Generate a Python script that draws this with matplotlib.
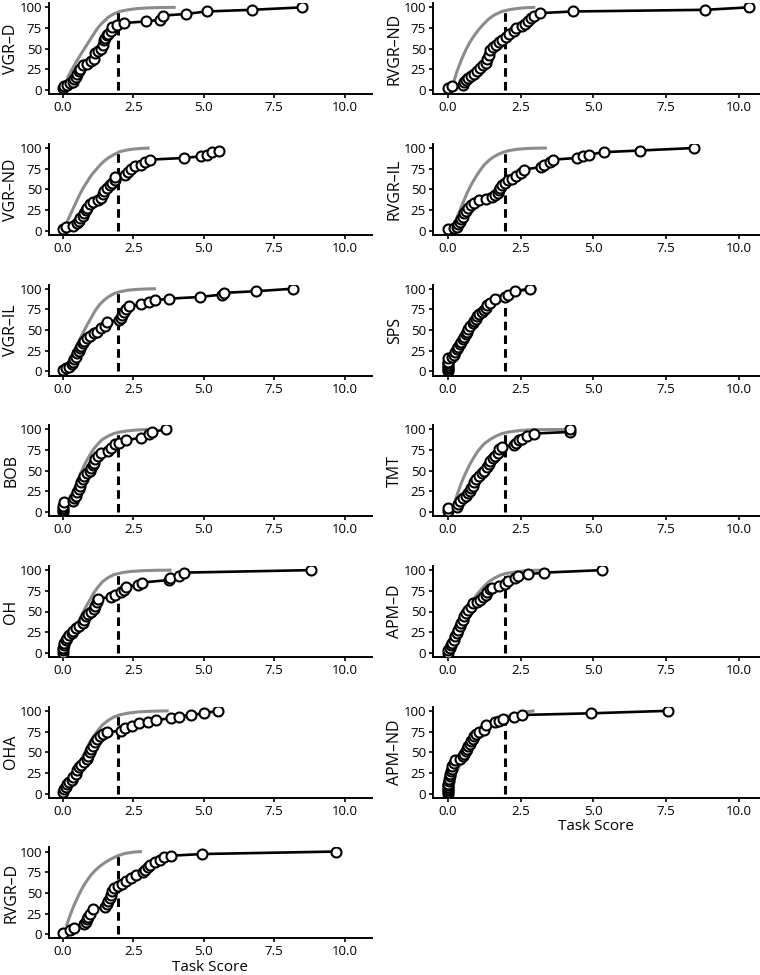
import matplotlib
matplotlib.use("Agg")
import matplotlib.pyplot as plt

plt.rcParams['font.family'] = ['Open Sans', 'DejaVu Sans']

# ---- data: patient task scores (x) vs cumulative percent (y), plus control curve ----
vgr_d_x = [0, 0.05, 0.15, 0.25, 0.35, 0.4, 0.45, 0.5, 0.55, 0.6, 0.7, 0.85, 1.0, 1.1, 1.15, 1.25, 1.35, 1.4, 1.45, 1.5, 1.55, 1.6, 1.7, 1.75, 1.9, 2.15, 2.95, 3.45, 3.55, 4.35, 5.1, 6.7, 8.5]
vgr_d_y = [2, 5, 6, 8, 10, 13, 16, 20, 23, 26, 30, 32, 35, 38, 45, 47, 50, 55, 60, 63, 66, 68, 72, 76, 79, 81, 83, 85, 90, 92, 95, 97, 100]
vgr_d_ref_x = [0.15, 0.3, 0.5, 0.7, 0.85, 1.0, 1.15, 1.3, 1.45, 1.6, 1.8, 2.0, 2.3, 2.6, 3.0, 3.5, 4.0]
vgr_d_ref_y = [14, 24, 36, 47, 55, 63, 71, 78, 83, 88, 92, 95, 97, 98.4, 99.3, 99.8, 100]

rvgr_nd_x = [0, 0.15, 0.5, 0.55, 0.6, 0.7, 0.8, 0.9, 1.0, 1.1, 1.2, 1.3, 1.35, 1.4, 1.45, 1.55, 1.65, 1.75, 1.85, 2.0, 2.1, 2.25, 2.35, 2.55, 2.65, 2.75, 2.85, 2.95, 3.15, 4.3, 8.85, 10.35]
rvgr_nd_y = [2, 5, 6, 10, 12, 14, 17, 20, 23, 27, 30, 33, 38, 42, 48, 52, 55, 58, 61, 64, 68, 71, 75, 78, 80, 83, 87, 90, 93, 95, 97, 100]
rvgr_nd_ref_x = [0.18, 0.3, 0.45, 0.6, 0.75, 0.9, 1.05, 1.2, 1.4, 1.6, 1.85, 2.1, 2.4, 2.7, 3.0]
rvgr_nd_ref_y = [8, 22, 36, 48, 58, 66, 73, 79, 86, 91, 95, 97.2, 98.7, 99.6, 100]

vgr_nd_x = [0, 0.1, 0.35, 0.5, 0.55, 0.6, 0.7, 0.75, 0.8, 0.85, 0.95, 1.05, 1.25, 1.35, 1.4, 1.45, 1.55, 1.65, 1.75, 1.85, 1.85, 2.2, 2.3, 2.4, 2.55, 2.75, 2.9, 3.1, 4.3, 4.9, 5.1, 5.3, 5.55]
vgr_nd_y = [2, 4, 6, 9, 12, 15, 18, 22, 25, 28, 32, 35, 37, 40, 44, 48, 52, 55, 58, 61, 65, 67, 71, 75, 78, 80, 83, 86, 88, 90, 92, 95, 97]
vgr_nd_ref_x = [0.12, 0.25, 0.4, 0.55, 0.7, 0.85, 1.0, 1.15, 1.3, 1.45, 1.6, 1.8, 2.0, 2.25, 2.5, 2.8, 3.07]
vgr_nd_ref_y = [9, 19, 30, 41, 51, 59, 67, 73, 79, 84, 88, 92, 95.5, 97.5, 98.8, 99.6, 100]

rvgr_il_x = [0, 0.2, 0.3, 0.35, 0.4, 0.45, 0.5, 0.55, 0.6, 0.7, 0.8, 0.9, 1.05, 1.3, 1.5, 1.6, 1.7, 1.75, 1.8, 1.85, 1.95, 2.05, 2.2, 2.35, 2.5, 2.6, 3.2, 3.3, 3.5, 3.6, 4.45, 4.65, 4.85, 5.35, 6.6, 8.45]
rvgr_il_y = [2, 3, 5, 8, 11, 14, 17, 21, 24, 27, 31, 34, 37, 39, 41, 43, 46, 49, 52, 55, 58, 61, 63, 66, 70, 74, 77, 79, 83, 86, 88, 90, 92, 95, 97, 100]
rvgr_il_ref_x = [0.2, 0.35, 0.5, 0.67, 0.8, 0.95, 1.1, 1.25, 1.4, 1.55, 1.73, 1.9, 2.1, 2.4, 2.7, 3.0, 3.4]
rvgr_il_ref_y = [7, 20, 33, 47, 56, 65, 73, 80, 85, 89, 92.5, 95, 97, 98.6, 99.4, 99.8, 100]

vgr_il_x = [0, 0.1, 0.2, 0.3, 0.35, 0.4, 0.45, 0.5, 0.55, 0.6, 0.65, 0.7, 0.75, 0.85, 0.95, 1.1, 1.2, 1.35, 1.5, 1.55, 2.0, 2.05, 2.1, 2.15, 2.25, 2.35, 2.75, 3.05, 3.25, 3.75, 4.85, 5.65, 5.7, 6.85, 8.15]
vgr_il_y = [2, 4, 6, 9, 12, 15, 18, 22, 25, 28, 31, 34, 37, 40, 43, 46, 48, 52, 55, 60, 62, 65, 68, 72, 75, 79, 81, 84, 86, 88, 90, 93, 95, 97, 100]
vgr_il_ref_x = [0.3, 0.42, 0.55, 0.7, 0.85, 1.0, 1.15, 1.3, 1.45, 1.6, 1.8, 2.0, 2.3, 2.6, 3.0, 3.3]
vgr_il_ref_y = [18, 27, 36, 46, 56, 65, 74, 81, 86, 90, 94, 96.3, 98.2, 99.2, 99.8, 100]

sps_x = [0, 0, 0, 0, 0, 0, 0, 0, 0.15, 0.2, 0.25, 0.3, 0.35, 0.4, 0.45, 0.5, 0.55, 0.6, 0.65, 0.7, 0.75, 0.85, 0.9, 0.95, 1.0, 1.05, 1.15, 1.25, 1.3, 1.35, 1.45, 1.6, 1.95, 2.05, 2.3, 2.8]
sps_y = [0, 2, 4, 6, 8, 10, 12, 16, 18, 20, 24, 27, 30, 33, 36, 39, 42, 45, 48, 51, 55, 58, 61, 64, 67, 70, 72, 74, 77, 80, 83, 87, 90, 93, 97, 100]
sps_ref_x = [0.0, 0.3, 0.6, 0.9, 1.2, 1.5, 1.9, 2.4, 2.8, 3.05]
sps_ref_y = [5, 25, 47, 64, 78, 87, 93, 97, 99.3, 100]

bob_x = [0, 0, 0, 0, 0.05, 0.35, 0.4, 0.45, 0.5, 0.55, 0.6, 0.65, 0.7, 0.75, 0.85, 0.95, 1.0, 1.05, 1.1, 1.15, 1.25, 1.35, 1.6, 1.7, 1.85, 2.0, 2.25, 2.75, 3.05, 3.15, 3.65]
bob_y = [0, 3, 5, 8, 12, 14, 17, 20, 24, 28, 32, 36, 40, 44, 47, 50, 53, 57, 60, 64, 68, 71, 74, 78, 82, 84, 87, 90, 94, 97, 100]
bob_ref_x = [0.2, 0.35, 0.5, 0.65, 0.8, 0.95, 1.1, 1.25, 1.4, 1.6, 1.8, 2.0, 2.3, 2.6, 3.0]
bob_ref_y = [12, 24, 37, 49, 60, 69, 77, 83, 88, 92, 95, 96.8, 98.3, 99.3, 100]

tmt_x = [0, 0, 0.3, 0.35, 0.4, 0.5, 0.6, 0.7, 0.75, 0.8, 0.85, 0.9, 0.95, 1.05, 1.15, 1.25, 1.35, 1.4, 1.45, 1.55, 1.6, 1.7, 1.75, 1.85, 2.25, 2.35, 2.45, 2.55, 2.7, 2.95, 4.2, 4.2]
tmt_y = [2, 5, 6, 10, 14, 17, 20, 23, 26, 29, 32, 36, 40, 44, 47, 50, 54, 58, 62, 65, 68, 72, 76, 79, 81, 84, 87, 89, 92, 95, 97, 100]
tmt_ref_x = [0.25, 0.35, 0.45, 0.6, 0.75, 0.9, 1.05, 1.25, 1.45, 1.65, 1.85, 2.1, 2.4, 2.7, 3.0, 3.5, 4.2]
tmt_ref_y = [15, 25, 35, 47, 58, 67, 75, 83, 88, 92, 95, 97, 98.4, 99.3, 99.7, 99.9, 100]

oh_x = [0, 0, 0, 0.05, 0.05, 0.1, 0.15, 0.2, 0.3, 0.35, 0.45, 0.55, 0.7, 0.75, 0.8, 0.9, 1.0, 1.1, 1.15, 1.2, 1.25, 1.7, 1.85, 2.05, 2.15, 2.25, 2.65, 2.8, 3.75, 3.8, 4.1, 4.3, 8.8]
oh_y = [0, 3, 6, 9, 12, 15, 18, 21, 24, 27, 30, 33, 36, 40, 44, 47, 50, 53, 57, 61, 65, 68, 70, 73, 76, 80, 82, 85, 88, 90, 93, 97, 100]
oh_ref_x = [0.2, 0.35, 0.5, 0.65, 0.8, 0.95, 1.1, 1.25, 1.4, 1.6, 1.8, 2.1, 2.4, 2.8, 3.3, 3.85]
oh_ref_y = [12, 23, 34, 45, 55, 64, 73, 80, 86, 91, 94.5, 97, 98.4, 99.3, 99.8, 100]

apm_d_x = [0, 0, 0.05, 0.1, 0.15, 0.2, 0.25, 0.3, 0.35, 0.4, 0.45, 0.5, 0.55, 0.6, 0.7, 0.8, 0.85, 1.0, 1.1, 1.2, 1.3, 1.35, 1.45, 1.5, 1.75, 1.95, 2.05, 2.3, 2.4, 2.75, 3.3, 5.3]
apm_d_y = [0, 3, 6, 9, 12, 16, 20, 24, 28, 32, 36, 40, 44, 48, 52, 56, 60, 62, 64, 67, 70, 73, 77, 79, 81, 83, 87, 90, 93, 95, 97, 100]
apm_d_ref_x = [0.05, 0.2, 0.4, 0.6, 0.8, 1.0, 1.2, 1.4, 1.6, 1.8, 2.0, 2.3, 2.6, 2.9, 3.2]
apm_d_ref_y = [8, 20, 36, 50, 61, 71, 79, 86, 90.5, 94, 96, 97.8, 99, 99.7, 100]

oha_x = [0, 0.05, 0.1, 0.15, 0.2, 0.3, 0.35, 0.45, 0.5, 0.55, 0.65, 0.75, 0.85, 0.9, 0.95, 1.0, 1.05, 1.15, 1.2, 1.3, 1.4, 1.55, 2.05, 2.2, 2.45, 2.7, 3.0, 3.3, 3.85, 4.1, 4.55, 5.0, 5.5]
oha_y = [2, 5, 8, 11, 14, 17, 20, 24, 28, 32, 35, 38, 42, 46, 50, 54, 58, 62, 66, 69, 72, 74, 76, 79, 82, 85, 87, 89, 91, 93, 95, 97, 100]
oha_ref_x = [0.2, 0.35, 0.5, 0.65, 0.8, 0.95, 1.1, 1.25, 1.4, 1.6, 1.8, 2.0, 2.3, 2.7, 3.2, 3.75]
oha_ref_y = [10, 20, 30, 41, 52, 62, 70, 77, 83, 88.5, 92.5, 95, 97.2, 98.8, 99.6, 100]

apm_nd_x = [0, 0, 0, 0, 0, 0, 0, 0.02, 0.04, 0.06, 0.08, 0.1, 0.12, 0.15, 0.2, 0.25, 0.4, 0.5, 0.55, 0.6, 0.65, 0.7, 0.75, 0.8, 0.85, 0.9, 0.95, 1.05, 1.25, 1.3, 1.6, 1.75, 1.9, 2.25, 2.55, 4.9, 7.55]
apm_nd_y = [0, 2, 4, 6, 8, 10, 12, 15, 18, 21, 24, 27, 30, 33, 37, 40, 42, 45, 48, 51, 54, 57, 60, 63, 66, 69, 72, 74, 77, 83, 86, 88, 90, 93, 95, 97, 100]
apm_nd_ref_x = [0.0, 0.2, 0.44, 0.7, 1.0, 1.3, 1.7, 2.2, 2.6, 2.97]
apm_nd_ref_y = [5, 22, 36, 55, 72, 83, 90, 95, 98.5, 100]

rvgr_d_x = [0, 0.25, 0.4, 0.75, 0.8, 0.85, 0.9, 0.95, 1.05, 1.5, 1.55, 1.6, 1.65, 1.7, 1.75, 1.8, 1.95, 2.1, 2.25, 2.4, 2.6, 2.85, 2.9, 3.0, 3.1, 3.25, 3.45, 3.6, 3.85, 4.95, 9.7]
rvgr_d_y = [2, 5, 8, 12, 15, 18, 21, 24, 30, 33, 36, 40, 44, 48, 52, 56, 58, 61, 64, 68, 72, 75, 78, 81, 84, 87, 90, 93, 95, 97, 100]
rvgr_d_ref_x = [0.12, 0.25, 0.4, 0.55, 0.7, 0.85, 1.0, 1.15, 1.3, 1.5, 1.7, 1.95, 2.2, 2.5, 2.8]
rvgr_d_ref_y = [10, 23, 36, 47, 57, 65, 72, 77.5, 82, 87, 91, 95, 97.7, 99.3, 100]

cutoff = 1.96
cutoff_top = 95
y_ticks = [0, 25, 50, 75, 100]
x_ticks = [0, 2.5, 5, 7.5, 10]
x_tick_labels = ["0.0", "2.5", "5.0", "7.5", "10.0"]

# (label, column, row, xs, ys, ref xs, ref ys)
panels = [
    ("VGR\u2013D", 0, 0, vgr_d_x, vgr_d_y, vgr_d_ref_x, vgr_d_ref_y),
    ("RVGR\u2013ND", 1, 0, rvgr_nd_x, rvgr_nd_y, rvgr_nd_ref_x, rvgr_nd_ref_y),
    ("VGR\u2013ND", 0, 1, vgr_nd_x, vgr_nd_y, vgr_nd_ref_x, vgr_nd_ref_y),
    ("RVGR\u2013IL", 1, 1, rvgr_il_x, rvgr_il_y, rvgr_il_ref_x, rvgr_il_ref_y),
    ("VGR\u2013IL", 0, 2, vgr_il_x, vgr_il_y, vgr_il_ref_x, vgr_il_ref_y),
    ("SPS", 1, 2, sps_x, sps_y, sps_ref_x, sps_ref_y),
    ("BOB", 0, 3, bob_x, bob_y, bob_ref_x, bob_ref_y),
    ("TMT", 1, 3, tmt_x, tmt_y, tmt_ref_x, tmt_ref_y),
    ("OH", 0, 4, oh_x, oh_y, oh_ref_x, oh_ref_y),
    ("APM\u2013D", 1, 4, apm_d_x, apm_d_y, apm_d_ref_x, apm_d_ref_y),
    ("OHA", 0, 5, oha_x, oha_y, oha_ref_x, oha_ref_y),
    ("APM\u2013ND", 1, 5, apm_nd_x, apm_nd_y, apm_nd_ref_x, apm_nd_ref_y),
    ("RVGR\u2013D", 0, 6, rvgr_d_x, rvgr_d_y, rvgr_d_ref_x, rvgr_d_ref_y),
]

W, H = 760, 975
fig = plt.figure(figsize=(W / 100, H / 100), dpi=100)

col_left = [49, 433]
col_width = [323, 327]
col_xlim = [(-0.50, 10.97), (-0.52, 10.73)]
ax_h = 91

for label, col, row, xs, ys, rx, ry in panels:
    top = 3.2 + 140.7 * row
    ax = fig.add_axes([col_left[col] / W, 1 - (top + ax_h) / H, col_width[col] / W, ax_h / H])
    ax.plot(rx, ry, color="#8c8c8c", lw=2.2, zorder=1, solid_capstyle="butt", solid_joinstyle="round")
    ax.plot([cutoff, cutoff], [0, cutoff_top], color="black", lw=2.2, dashes=(2.8, 1.7), zorder=2)
    ax.plot(xs, ys, color="black", lw=1.9, marker="o", markersize=7.2,
            markerfacecolor="white", markeredgecolor="black", markeredgewidth=1.5, zorder=3)
    ax.set_xlim(*col_xlim[col])
    ax.set_ylim(-5, 105)
    ax.set_xticks(x_ticks)
    ax.set_xticklabels(x_tick_labels)
    ax.set_yticks(y_ticks)
    for s in ["top", "right"]:
        ax.spines[s].set_visible(False)
    for s in ["left", "bottom"]:
        ax.spines[s].set_linewidth(1.4)
    ax.tick_params(length=3, width=1.2, pad=2, labelsize=9.5, colors="black")
    ax.set_ylabel(label, fontsize=11.5)
    ax.yaxis.set_label_coords(-0.092, 0.5)
    if (col == 0 and row == 6) or (col == 1 and row == 5):
        ax.set_xlabel("Task Score", fontsize=11, labelpad=1)

fig.savefig("out.png", dpi=100)
